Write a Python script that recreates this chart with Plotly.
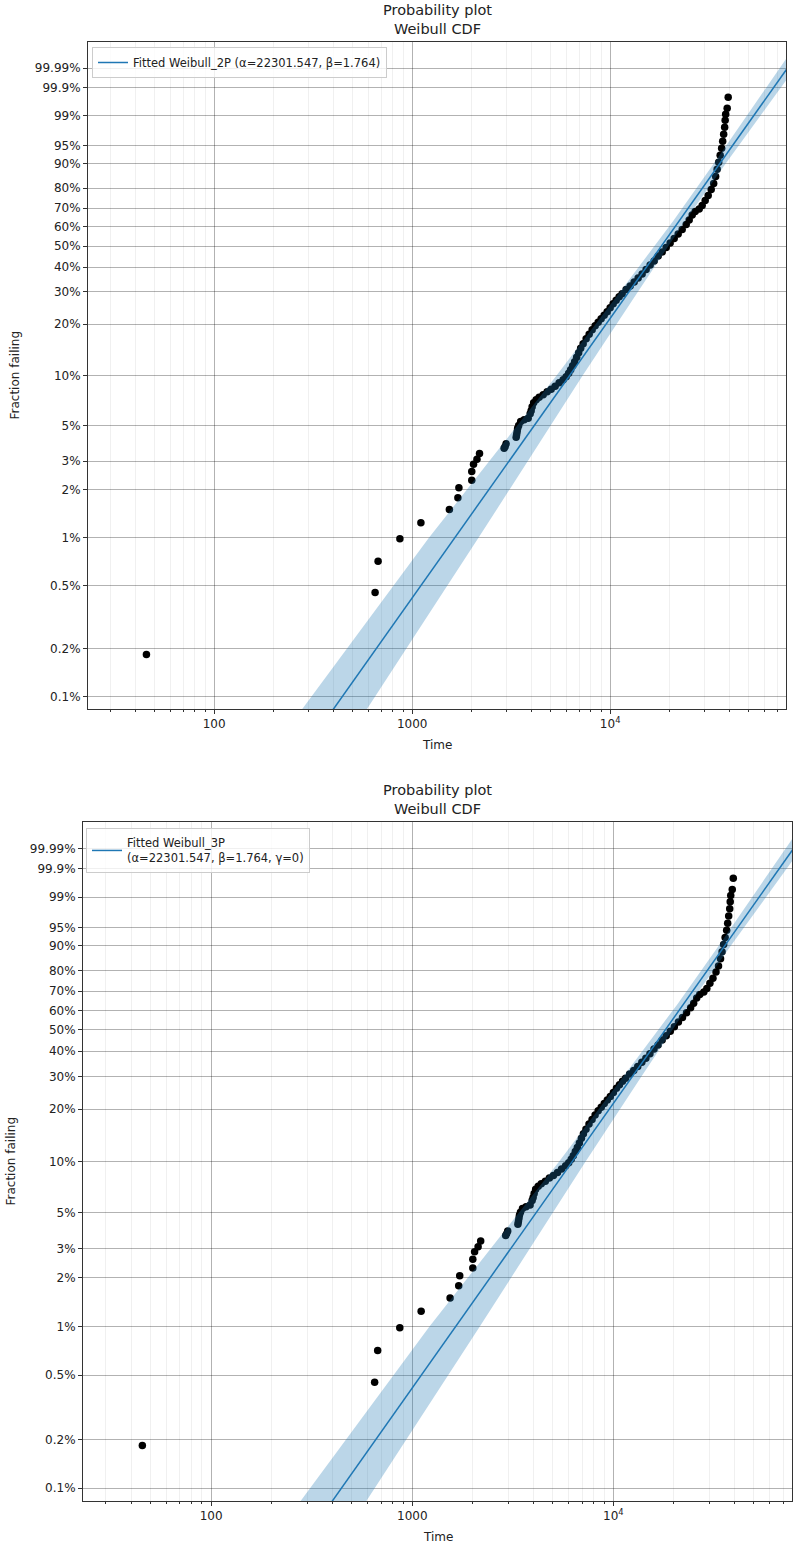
import numpy as np
import plotly.graph_objects as go

# ---------------- data ----------------
fail_time = [45.5, 650, 673, 867, 1107, 1542, 1702, 1722, 2000, 2000, 2042, 2125, 2189,
             2914, 2949, 2983,
             3351, 3371, 3391, 3411, 3451, 3532, 3679, 3854, 3945, 3990, 4037, 4107, 4229,
             4379, 4588, 4806, 5035, 5275, 5526, 5789, 5995, 6172, 6317, 6466, 6618, 6774,
             6933, 7096, 7305, 7565, 7832, 8111, 8400, 8698, 9006, 9326, 9656, 10000, 10356,
             10722, 11103, 11497, 12040, 12619, 13218, 13848, 14504, 15196, 15922, 16681,
             17476, 18307, 19182, 20091, 21049, 22054, 23102, 24204, 25060, 25950, 26873,
             28150, 29150, 30190, 31260, 32370, 33320, 34100, 34700, 35320, 35940, 36570,
             37000, 37430, 37870, 38090, 38310, 38990, 39450]
fail_pct = [0.184, 0.452, 0.711, 0.983, 1.24, 1.50, 1.78, 2.05, 2.29, 2.59, 2.88, 3.09, 3.35,
            3.62, 3.71, 3.85,
            4.23, 4.40, 4.59, 4.80, 5.00, 5.28, 5.41, 5.53, 5.89, 6.14, 6.50, 6.87, 7.17,
            7.43, 7.69, 8.02, 8.30, 8.66, 9.09, 9.48, 9.88, 10.36, 10.88, 11.49, 12.13, 12.90,
            13.71, 14.57, 15.47, 16.54, 17.55, 18.62, 19.62, 20.53, 21.49, 22.47, 23.50, 24.71, 25.98,
            27.14, 28.33, 29.39, 30.85, 32.17, 33.73, 35.35, 37.02, 38.96, 40.96, 42.80,
            45.16, 47.10, 49.33, 51.61, 53.93, 56.28, 58.67, 61.33, 63.74, 66.42, 68.28,
            69.60, 71.43, 74.01, 76.52, 79.43, 82.20, 85.21, 87.95, 90.40, 92.53, 94.34,
            95.84, 97.04, 97.98, 98.67, 99.10, 99.415, 99.761]

alpha = 22301.547
beta = 1.764

fit_pct_ends = [0.08, 99.999]

band_pct = [0.08, 1, 10, 30, 63.2, 90, 99.999]
band_lo = [272, 1218, 5350, 11206, 20818, 33390, 81210]
band_hi = [579, 2167, 7250, 13787, 23897, 38340, 97650]

ytick_pct = [0.1, 0.2, 0.5, 1, 2, 3, 5, 10, 20, 30, 40, 50, 60, 70, 80, 90, 95, 99, 99.9, 99.99]
ytick_text = ['0.1%', '0.2%', '0.5%', '1%', '2%', '3%', '5%', '10%', '20%', '30%', '40%', '50%',
              '60%', '70%', '80%', '90%', '95%', '99%', '99.9%', '99.99%']
xtick_vals = [100, 1000, 10000]
xtick_text = ['100', '1000', '10<sup>4</sup>']
xminor_vals = [30, 40, 50, 60, 70, 80, 90, 200, 300, 400, 500, 600, 700, 800, 900,
               2000, 3000, 4000, 5000, 6000, 7000, 8000, 9000,
               20000, 30000, 40000, 50000, 60000, 70000]

legend_texts = ['Fitted Weibull_2P (α=22301.547, β=1.764)',
                'Fitted Weibull_3P<br>(α=22301.547, β=1.764, γ=0)']

# ---------------- helpers ----------------
def wy(pct):
    F = np.asarray(pct, dtype=float) / 100.0
    return np.log(-np.log(1.0 - F))

def fit_time(pct):
    return alpha * np.exp(wy(pct) / beta)

W, H = 795, 1551
FONT = 'DejaVu Sans'
BLUE = '#1f77b4'

panels = [
    dict(x0=88, x1=786, y0=42, y1=709, ylab_x=15),
    dict(x0=83, x1=792, y0=822, y1=1501, ylab_x=10),
]
xrange_log = [1.363, 4.888]
yrange = [-7.09, 2.60]

fig = go.Figure()
annotations = []

for i, p in enumerate(panels):
    sfx = '' if i == 0 else str(i + 1)
    xa, ya = 'x' + sfx, 'y' + sfx
    leg = 'legend' if i == 0 else 'legend2'

    # scatter
    fig.add_trace(go.Scatter(x=fail_time, y=wy(fail_pct), mode='markers',
                             marker=dict(color='black', size=7.5, line=dict(width=0)),
                             showlegend=False, xaxis=xa, yaxis=ya, hoverinfo='skip'))
    # band
    bx = list(band_lo) + list(band_hi)[::-1]
    by = list(wy(band_pct)) + list(wy(band_pct))[::-1]
    fig.add_trace(go.Scatter(x=bx, y=by, fill='toself', mode='none',
                             fillcolor='rgba(31,119,180,0.3)', showlegend=False,
                             xaxis=xa, yaxis=ya, hoverinfo='skip'))
    # fitted line
    fig.add_trace(go.Scatter(x=fit_time(fit_pct_ends), y=wy(fit_pct_ends), mode='lines',
                             line=dict(color=BLUE, width=1.5), name=legend_texts[i],
                             legend=leg, xaxis=xa, yaxis=ya))

    xd = [p['x0'] / W, p['x1'] / W]
    yd = [1 - p['y1'] / H, 1 - p['y0'] / H]
    axis_common = dict(showline=True, linecolor='#333', linewidth=1, mirror=True,
                       ticks='outside', ticklen=4, tickcolor='#333',
                       tickfont=dict(family=FONT, size=12, color='#222'),
                       zeroline=False)
    fig.layout['xaxis' + sfx] = dict(domain=xd, anchor=ya, type='log', range=xrange_log,
                                     tickmode='array', tickvals=xtick_vals, ticktext=xtick_text,
                                     showgrid=True, gridcolor='rgba(0,0,0,0.3)', gridwidth=1,
                                     minor=dict(tickmode='array', tickvals=xminor_vals,
                                                ticks='outside', ticklen=2, tickcolor='#333',
                                                showgrid=True, gridcolor='rgba(0,0,0,0.06)'),
                                     **axis_common)
    fig.layout['yaxis' + sfx] = dict(domain=yd, anchor=xa, range=yrange,
                                     tickmode='array', tickvals=list(wy(ytick_pct)),
                                     ticktext=ytick_text,
                                     showgrid=True, gridcolor='rgba(0,0,0,0.3)', gridwidth=1,
                                     **axis_common)

    xc = (p['x0'] + p['x1']) / 2 / W
    annotations.append(dict(text='Probability plot<br>Weibull CDF', x=xc, y=1 - p['y0'] / H,
                            xref='paper', yref='paper', xanchor='center', yanchor='bottom',
                            yshift=3, showarrow=False,
                            font=dict(family=FONT, size=14.5, color='#222')))
    annotations.append(dict(text='Time', x=xc, y=1 - (p['y1'] + 36) / H,
                            xref='paper', yref='paper', xanchor='center', yanchor='middle',
                            showarrow=False, font=dict(family=FONT, size=12, color='#222')))
    annotations.append(dict(text='Fraction failing', x=p['ylab_x'] / W,
                            y=1 - (p['y0'] + p['y1']) / 2 / H,
                            xref='paper', yref='paper', xanchor='center', yanchor='middle',
                            textangle=-90, showarrow=False,
                            font=dict(family=FONT, size=12, color='#222')))

legend_common = dict(bgcolor='rgba(255,255,255,0.8)', bordercolor='#cccccc', borderwidth=1,
                     font=dict(family=FONT, size=11.5, color='#222'),
                     xanchor='left', yanchor='top', xref='paper', yref='paper')
fig.update_layout(
    width=W, height=H, margin=dict(l=0, r=0, t=0, b=0),
    paper_bgcolor='white', plot_bgcolor='white',
    font=dict(family=FONT),
    annotations=annotations,
    legend=dict(x=92 / W, y=1 - 47 / H, **legend_common),
    legend2=dict(x=86 / W, y=1 - 828 / H, **legend_common),
)

fig.write_html('out.html')
